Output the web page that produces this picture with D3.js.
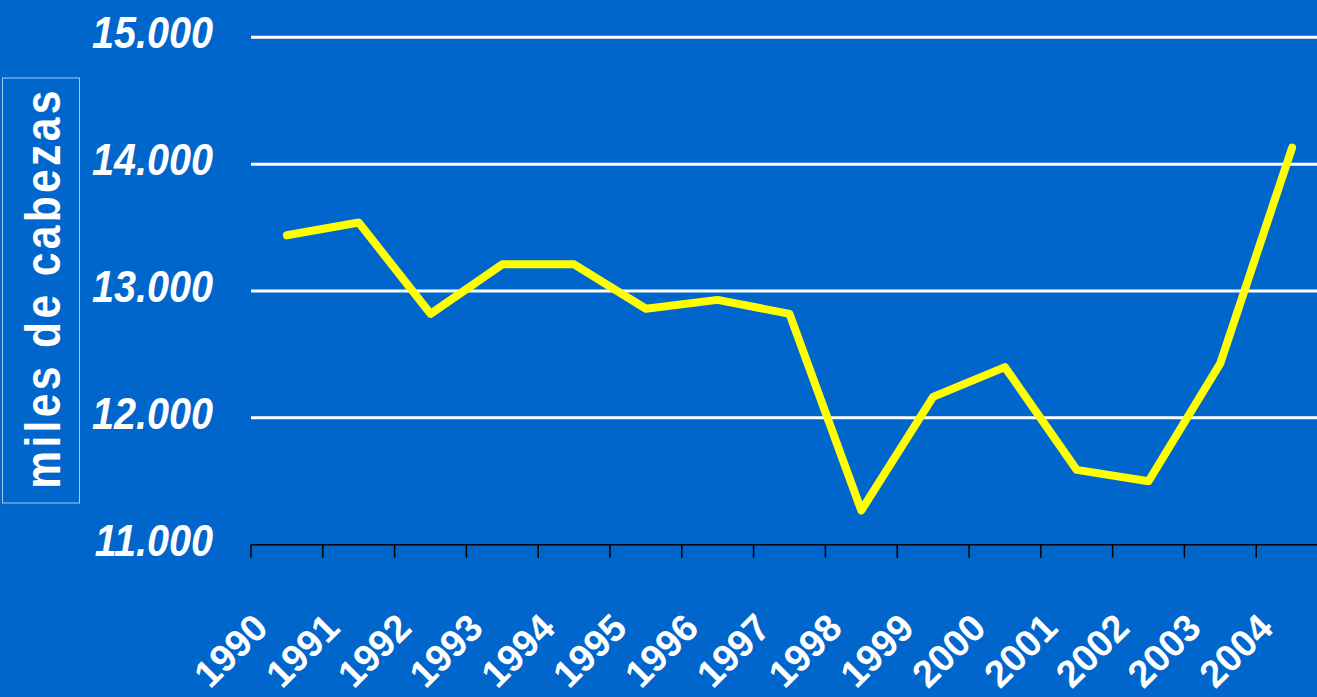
<!DOCTYPE html>
<html>
<head>
<meta charset="utf-8">
<script src="https://cdn.jsdelivr.net/npm/d3@7"></script>
<style>
  html, body { margin: 0; padding: 0; background: #0066cc; overflow: hidden; }
  svg { display: block; }
</style>
</head>
<body>
<svg id="chart" width="1317" height="697"></svg>
<script>
const years = ["1990","1991","1992","1993","1994","1995","1996","1997","1998","1999","2000","2001","2002","2003","2004"];
const heads = [13440, 13540, 12820, 13210, 13210, 12860, 12930, 12820, 11270, 12165, 12400, 11590, 11500, 12430, 14130];
const yTicks = [11000, 12000, 13000, 14000, 15000];
const yTitle = "miles de cabezas";

const W = 1317, H = 697;
const svg = d3.select("#chart");
svg.append("rect").attr("width", W).attr("height", H).attr("fill", "#0066cc");

const x = d3.scaleBand().domain(years).range([251, 1328]).padding(0);
const y = d3.scaleLinear().domain([11000, 15000]).range([544.7, 37.3]);
const fmt = d3.formatLocale({decimal: ",", thousands: ".", grouping: [3], currency: ["", ""]}).format(",");

// gridlines
svg.append("g").selectAll("line").data(yTicks.filter(d => d !== 11000)).join("line")
  .attr("x1", 251).attr("x2", W)
  .attr("y1", d => y(d)).attr("y2", d => y(d))
  .attr("stroke", "#ffffff").attr("stroke-width", 3);

// y tick labels
svg.append("g").selectAll("text").data(yTicks).join("text")
  .attr("transform", d => `translate(213,${y(d) + 11}) scale(0.9,1)`)
  .attr("text-anchor", "end")
  .attr("font-family", "'Liberation Sans', Arial, sans-serif")
  .attr("font-weight", "bold").attr("font-style", "italic")
  .attr("font-size", 44)
  .attr("fill", "#ffffff")
  .text(d => fmt(d));

// x axis line + ticks
const axisY = y(11000);
svg.append("line").attr("x1", 251).attr("x2", W).attr("y1", axisY).attr("y2", axisY)
  .attr("stroke", "#000000").attr("stroke-width", 1.5);
svg.append("g").selectAll("line").data(years).join("line")
  .attr("x1", d => x(d)).attr("x2", d => x(d))
  .attr("y1", axisY).attr("y2", axisY + 13)
  .attr("stroke", "#000000").attr("stroke-width", 1.5);

// x labels
svg.append("g").selectAll("text").data(years).join("text")
  .attr("transform", d => `translate(${x(d) + x.bandwidth() / 2 - 17},630) rotate(-45)`)
  .attr("text-anchor", "end")
  .attr("font-family", "'Liberation Sans', Arial, sans-serif")
  .attr("font-weight", "bold")
  .attr("font-size", 38)
  .attr("fill", "#ffffff")
  .text(d => d);

// y title box + text
svg.append("rect").attr("x", 2.5).attr("y", 78).attr("width", 77).attr("height", 425)
  .attr("fill", "none").attr("stroke", "#a9c9ef").attr("stroke-width", 1);
svg.append("text")
  .attr("transform", "translate(60,288) rotate(-90) scale(0.85,1)")
  .attr("text-anchor", "middle")
  .attr("font-family", "'Liberation Sans', Arial, sans-serif")
  .attr("font-weight", "bold")
  .attr("font-size", 50)
  .attr("letter-spacing", 4)
  .attr("fill", "#ffffff")
  .text(yTitle);

// data line
const line = d3.line().x((d, i) => x(years[i]) + x.bandwidth() / 2).y(d => y(d));
svg.append("path").datum(heads)
  .attr("d", line)
  .attr("fill", "none").attr("stroke", "#ffff00").attr("stroke-width", 8)
  .attr("stroke-linejoin", "round").attr("stroke-linecap", "round");
</script>
</body>
</html>
